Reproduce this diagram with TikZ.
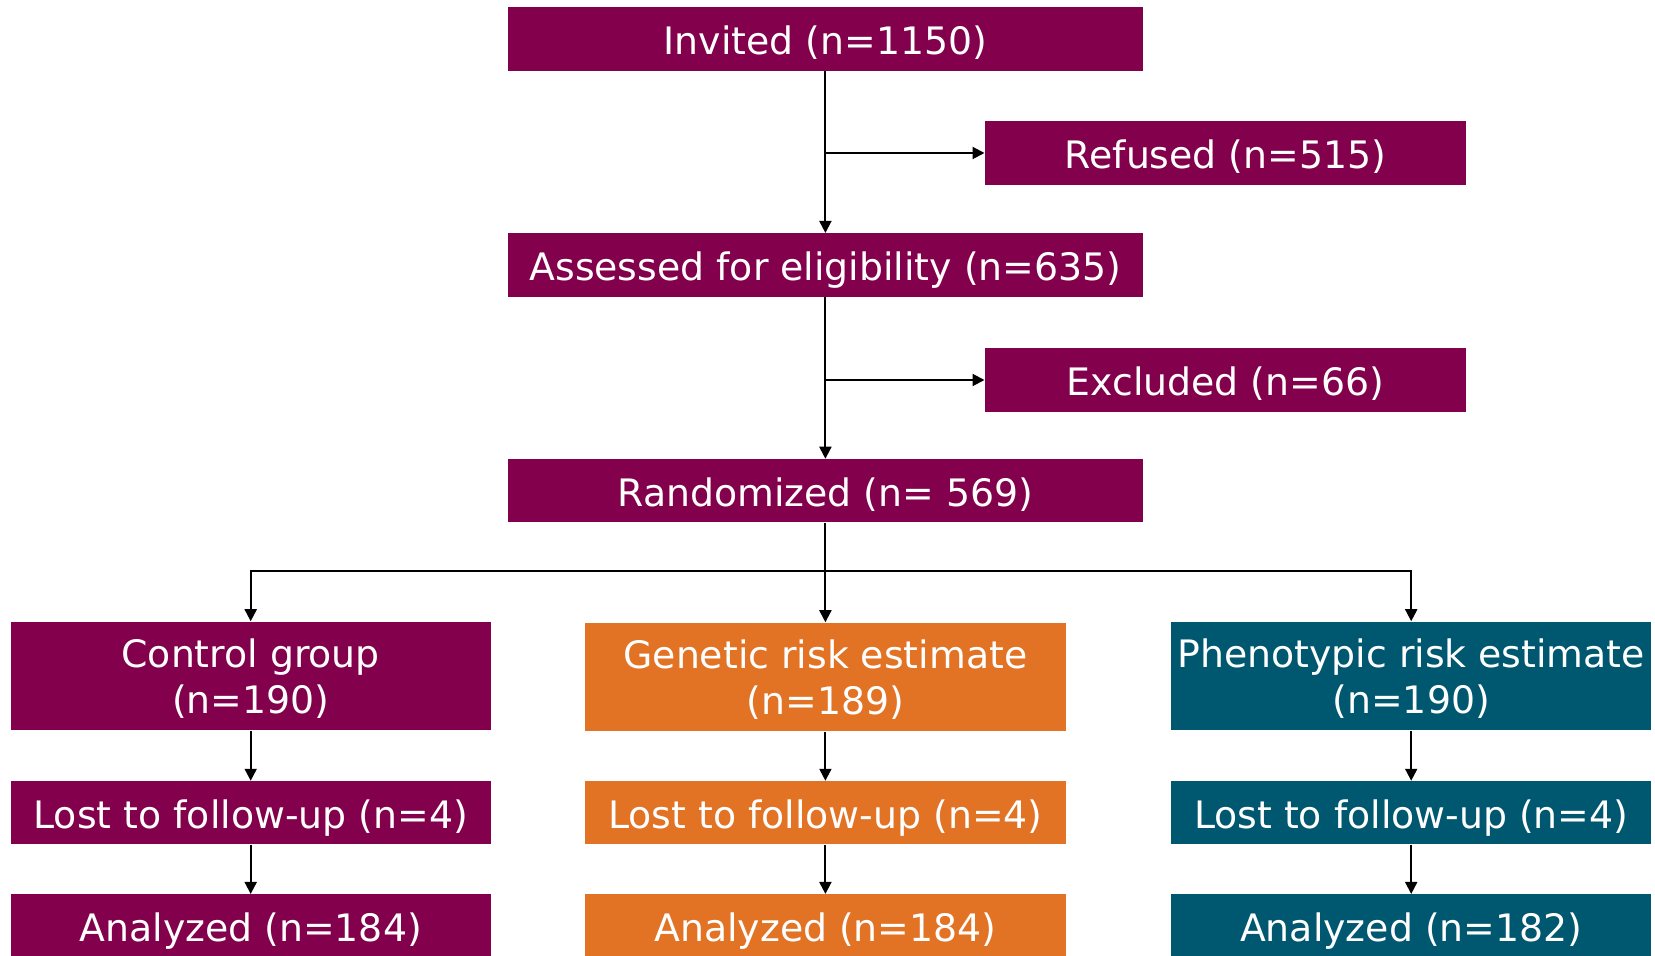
\documentclass[tikz,border=0pt]{standalone}
\usepackage{fontspec}
\setmainfont{DejaVu Sans}
\usetikzlibrary{arrows.meta,calc}
\definecolor{cpurple}{RGB}{130,0,76}
\definecolor{corange}{RGB}{226,114,36}
\definecolor{cteal}{RGB}{0,87,112}
\begin{document}
\begin{tikzpicture}[x=0.5pt,y=-0.5pt,
  box/.style={fill=#1,text=white,inner sep=0pt,align=center,
    font=\fontsize{18.9}{23}\selectfont,minimum height=31.65pt,
    text height=17.8pt,text depth=2.5pt},
  wide/.style={minimum width=317.7pt},
  side/.style={minimum width=240.6pt},
  col/.style={minimum width=240.1pt},
  tall/.style={minimum height=54.35pt,text height=40pt,text depth=3pt},
  arr/.style={line width=1pt,-{Triangle[length=6pt,width=6pt]}}]
\useasboundingbox (0,0) rectangle (1655,956);
\node[box=cpurple,wide] (invited) at (825.4,39) {Invited (n=1150)};
\node[box=cpurple,side] (refused) at (1225.5,153) {Refused (n=515)};
\node[box=cpurple,wide] (assessed) at (825.4,265) {Assessed for eligibility (n=635)};
\node[box=cpurple,side] (excluded) at (1225.5,380) {Excluded (n=66)};
\node[box=cpurple,wide] (random) at (825.4,490.8) {Randomized (n= 569)};
\node[box=cpurple,col,tall] (control) at (250.7,676) {Control group\\(n=190)};
\node[box=corange,col,tall] (genetic) at (825.4,677) {Genetic risk estimate\\(n=189)};
\node[box=cteal,col,tall] (pheno) at (1411.2,676) {Phenotypic risk estimate\\(n=190)};
\node[box=cpurple,col] (lostc) at (250.7,812.8) {Lost to follow-up (n=4)};
\node[box=corange,col] (lostg) at (825.4,812.8) {Lost to follow-up (n=4)};
\node[box=cteal,col] (lostp) at (1411.2,812.8) {Lost to follow-up (n=4)};
\node[box=cpurple,col] (anac) at (250.7,926) {Analyzed (n=184)};
\node[box=corange,col] (anag) at (825.4,926) {Analyzed (n=184)};
\node[box=cteal,col] (anap) at (1411.2,926) {Analyzed (n=182)};
\draw[arr] (invited) -- (assessed);
\draw[arr] (invited.south |- refused.west) -- (refused.west);
\draw[arr] (assessed) -- (random);
\draw[arr] (assessed.south |- excluded.west) -- (excluded.west);
\coordinate (br) at (825.4,571);
\draw[arr] (random) -- (genetic);
\draw[arr] (br) -| (control);
\draw[arr] (br) -| (pheno);
\draw[arr] (control) -- (lostc);
\draw[arr] (genetic) -- (lostg);
\draw[arr] (pheno) -- (lostp);
\draw[arr] (lostc) -- (anac);
\draw[arr] (lostg) -- (anag);
\draw[arr] (lostp) -- (anap);
\end{tikzpicture}
\end{document}
